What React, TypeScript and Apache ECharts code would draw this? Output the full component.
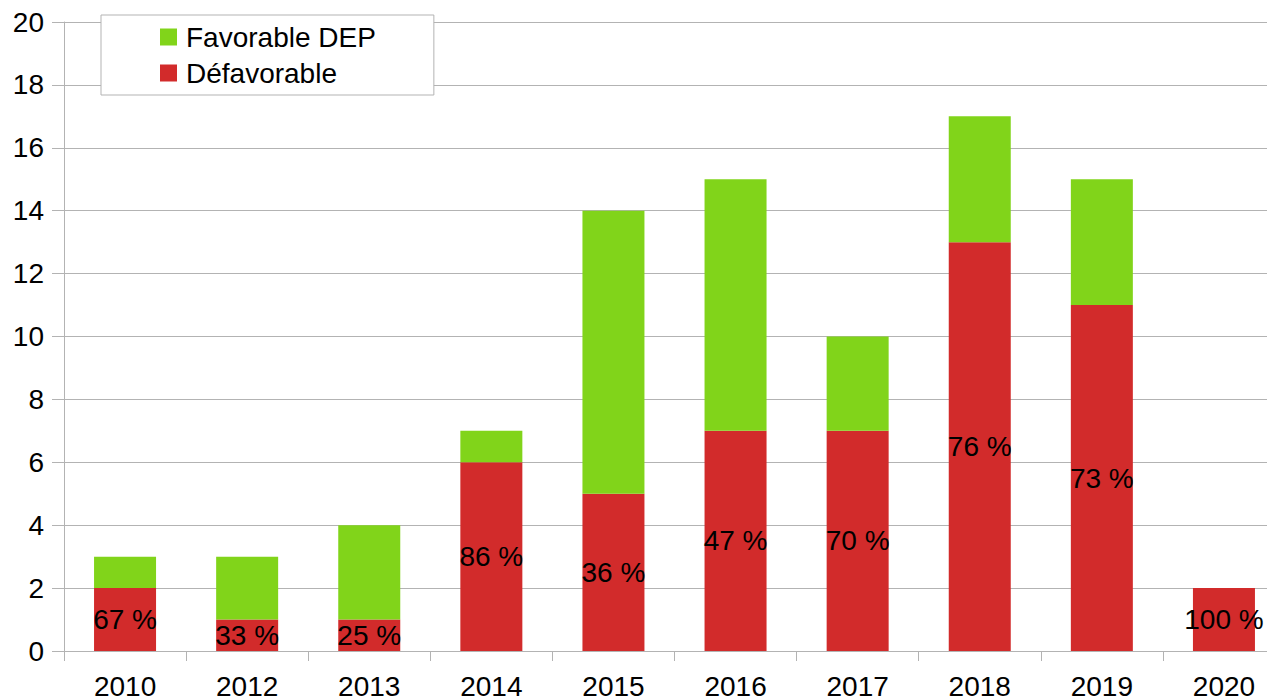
import React, { useEffect, useRef } from "react";
import * as echarts from "echarts";

const years = ["2010", "2012", "2013", "2014", "2015", "2016", "2017", "2018", "2019", "2020"];
const defavorable = [2, 1, 1, 6, 5, 7, 7, 13, 11, 2];
const favorable = [1, 2, 3, 1, 9, 8, 3, 4, 4, 0];
const pctLabels = ["67 %", "33 %", "25 %", "86 %", "36 %", "47 %", "70 %", "76 %", "73 %", "100 %"];
const yTicks = { min: 0, max: 20, interval: 2 };

const FONT = "Liberation Sans";
const GRID_COLOR = "#b3b3b3";
const FS = 28;

export default function App() {
  const ref = useRef<HTMLDivElement>(null);
  useEffect(() => {
    document.body.style.margin = "0";
    const chart = echarts.init(ref.current!, null, { renderer: "svg" });
    chart.setOption({
      animation: false,
      textStyle: { fontFamily: FONT },
      legend: {
        orient: "vertical",
        left: 101,
        top: 15,
        padding: [8, 58, 8, 59],
        itemGap: 8,
        itemWidth: 17,
        itemHeight: 17,
        icon: "rect",
        borderColor: GRID_COLOR,
        borderWidth: 1,
        backgroundColor: "#fff",
        data: ["Favorable DEP", "Défavorable"],
        textStyle: { fontFamily: FONT, fontSize: FS, color: "#000", lineHeight: 25, padding: [0, 0, 0, 4] },
      },
      grid: { left: 64, top: 22, width: 1221, height: 629, outerBoundsMode: "none", containLabel: false },
      xAxis: {
        type: "category",
        data: years,
        axisLine: { show: true, lineStyle: { color: GRID_COLOR, width: 1 } },
        axisTick: { show: true, interval: 0, length: 10, lineStyle: { color: GRID_COLOR } },
        axisLabel: { interval: 0, fontSize: FS, color: "#000", fontFamily: FONT, margin: 21 },
      },
      yAxis: {
        type: "value",
        min: yTicks.min,
        max: yTicks.max,
        interval: yTicks.interval,
        axisLine: { show: true, lineStyle: { color: GRID_COLOR, width: 1 } },
        axisTick: { show: true, length: 12, lineStyle: { color: GRID_COLOR } },
        axisLabel: { fontSize: FS, color: "#000", fontFamily: FONT, margin: 20 },
        splitLine: { show: true, lineStyle: { color: GRID_COLOR, width: 1 } },
      },
      series: [
        {
          name: "Défavorable",
          type: "bar",
          stack: "total",
          barWidth: 62,
          itemStyle: { color: "#d22b2b" },
          data: defavorable,
          label: {
            show: true,
            position: "inside",
            formatter: (p: any) => pctLabels[p.dataIndex],
            fontSize: FS,
            color: "#000",
            fontFamily: FONT,
            textBorderWidth: 0,
          },
          labelLayout: { hideOverlap: false },
        },
        {
          name: "Favorable DEP",
          type: "bar",
          stack: "total",
          barWidth: 62,
          itemStyle: { color: "#81d41a" },
          data: favorable,
        },
      ],
    });
    return () => chart.dispose();
  }, []);
  return <div ref={ref} style={{ width: 1267, height: 698 }} />;
}
